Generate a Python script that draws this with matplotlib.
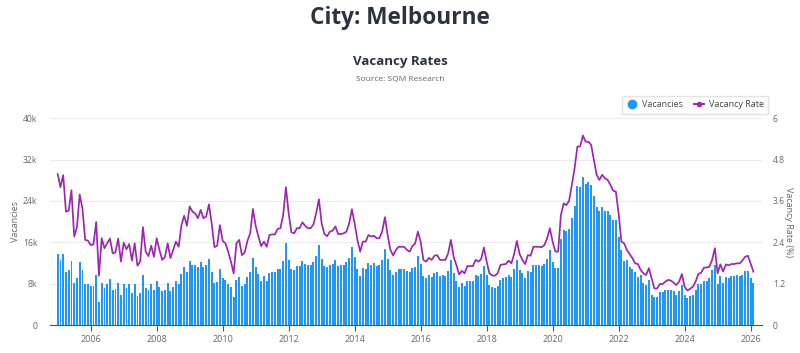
import numpy as np
import matplotlib
matplotlib.use('Agg')
import matplotlib.pyplot as plt
from matplotlib.lines import Line2D

plt.rcParams['font.family'] = ['Open Sans', 'DejaVu Sans']

# monthly data, Jan 2005 .. Feb 2026
vacancies_k = [
    13.7, 12.5, 13.7, 10.3, 10.6, 12.4, 8.1, 9.0, 12.1, 10.6, 7.9, 7.9,
    7.5, 7.5, 9.7, 4.5, 8.2, 7.1, 7.9, 8.9, 6.8, 6.9, 8.2, 5.9,
    8.0, 7.1, 7.9, 6.2, 7.9, 5.7, 6.2, 9.6, 7.1, 6.8, 7.9, 6.8,
    8.6, 7.4, 6.5, 6.8, 8.2, 6.6, 7.4, 8.5, 7.9, 9.9, 11.2, 10.3,
    12.3, 11.7, 11.7, 11.2, 12.1, 11.2, 11.6, 12.7, 10.3, 8.2, 8.4, 10.9,
    9.0, 8.8, 7.9, 7.3, 5.4, 8.7, 9.2, 7.5, 8.0, 9.2, 10.2, 12.9,
    11.3, 9.9, 8.6, 9.5, 8.6, 10.1, 10.2, 10.2, 10.9, 10.9, 12.3, 15.9,
    12.6, 10.8, 10.6, 11.4, 11.4, 12.3, 11.9, 11.6, 11.6, 12.1, 13.4, 15.5,
    12.8, 11.5, 11.2, 11.6, 11.8, 12.5, 11.5, 11.6, 11.7, 12.1, 13.0, 15.0,
    13.2, 10.8, 9.5, 11.0, 10.9, 12.0, 11.6, 12.0, 11.5, 11.6, 12.6, 14.7,
    12.8, 10.6, 9.6, 10.3, 10.8, 10.8, 10.8, 10.5, 10.3, 11.0, 11.3, 13.4,
    11.9, 9.5, 9.1, 9.7, 9.2, 10.0, 10.3, 9.5, 9.7, 9.5, 10.5, 12.5,
    10.0, 8.6, 7.3, 8.1, 7.5, 8.6, 8.6, 8.6, 9.6, 9.4, 9.9, 11.4,
    9.7, 7.7, 7.4, 7.2, 7.5, 8.8, 9.0, 9.2, 9.6, 9.2, 10.8, 12.5,
    10.6, 10.0, 9.0, 10.5, 10.3, 11.6, 11.6, 11.6, 11.4, 11.8, 12.8, 14.5,
    12.1, 11.0, 11.0, 16.6, 18.4, 18.1, 18.6, 20.8, 23.0, 26.9, 26.8, 28.7,
    27.3, 27.7, 27.1, 25.0, 22.9, 22.1, 22.8, 22.1, 22.1, 21.2, 20.3, 20.3,
    17.0, 14.6, 12.3, 12.5, 11.2, 10.8, 10.2, 9.3, 9.6, 8.1, 7.8, 8.7,
    5.8, 5.5, 5.5, 6.3, 6.3, 6.8, 6.8, 6.8, 6.5, 5.9, 6.5, 7.7,
    5.8, 5.3, 5.6, 5.9, 6.7, 7.9, 8.0, 8.6, 8.6, 9.0, 10.6, 11.6,
    8.0, 9.4, 8.1, 9.3, 9.0, 9.4, 9.4, 9.6, 9.5, 9.6, 10.5, 10.5,
    9.1, 8.2,
]

vacancy_rate = [
    4.38, 4.0, 4.35, 3.29, 3.32, 3.91, 2.57, 2.84, 3.79, 3.38, 2.47, 2.45,
    2.32, 2.34, 2.99, 1.43, 2.52, 2.23, 2.37, 2.51, 2.08, 2.11, 2.51, 1.84,
    2.39, 2.2, 2.35, 1.87, 2.37, 1.72, 1.84, 2.84, 2.13, 2.0, 2.3, 1.98,
    2.52, 2.18, 1.89, 1.98, 2.37, 1.94, 2.18, 2.42, 2.27, 2.9, 3.17, 2.88,
    3.44, 3.29, 3.24, 3.1, 3.34, 3.1, 3.15, 3.5, 2.95, 2.26, 2.3, 2.9,
    2.44, 2.37, 2.13, 1.84, 1.5, 2.37, 2.47, 2.03, 2.1, 2.44, 2.66, 3.37,
    2.88, 2.57, 2.29, 2.42, 2.27, 2.61, 2.63, 2.63, 2.79, 2.81, 3.19, 4.0,
    3.24, 2.69, 2.66, 2.81, 2.81, 2.98, 2.88, 2.81, 2.81, 2.92, 3.24, 3.65,
    2.95, 2.64, 2.58, 2.71, 2.74, 2.86, 2.64, 2.64, 2.66, 2.71, 2.95, 3.36,
    2.95, 2.47, 2.13, 2.42, 2.42, 2.61, 2.57, 2.59, 2.52, 2.52, 2.71, 3.13,
    2.61, 2.18, 2.02, 2.18, 2.27, 2.27, 2.27, 2.18, 2.13, 2.29, 2.37, 2.71,
    2.42, 1.89, 1.84, 1.95, 1.89, 2.01, 2.03, 1.89, 1.89, 1.89, 2.08, 2.47,
    1.98, 1.74, 1.47, 1.57, 1.5, 1.71, 1.71, 1.71, 1.89, 1.84, 1.91, 2.25,
    1.84, 1.5, 1.44, 1.43, 1.5, 1.74, 1.76, 1.77, 1.87, 1.79, 2.06, 2.44,
    2.06, 1.89, 1.77, 2.03, 2.01, 2.27, 2.27, 2.27, 2.26, 2.32, 2.52, 2.81,
    2.42, 2.13, 2.13, 3.19, 3.53, 3.48, 3.61, 4.07, 4.55, 5.18, 5.18, 5.5,
    5.32, 5.32, 5.23, 4.79, 4.36, 4.21, 4.36, 4.26, 4.21, 4.07, 3.9, 3.87,
    3.24, 2.42, 2.37, 2.18, 2.06, 1.94, 1.79, 1.77, 1.6, 1.5, 1.45, 1.65,
    1.36, 1.06, 1.06, 1.19, 1.19, 1.26, 1.31, 1.29, 1.23, 1.16, 1.26, 1.48,
    1.11, 1.0, 1.05, 1.11, 1.26, 1.48, 1.52, 1.66, 1.67, 1.69, 1.89, 2.23,
    1.5, 1.76, 1.55, 1.76, 1.73, 1.77, 1.77, 1.79, 1.79, 1.87, 1.98, 2.01,
    1.79, 1.55,
]

years = [2006, 2008, 2010, 2012, 2014, 2016, 2018, 2020, 2022, 2024, 2026]
left_ticks = [0, 8, 16, 24, 32, 40]
left_labels = ['0', '8k', '16k', '24k', '32k', '40k']
right_ticks = [0, 1.2, 2.4, 3.6, 4.8, 6]
right_labels = ['0', '1.2', '2.4', '3.6', '4.8', '6']

BLUE = '#2196f3'
PURPLE = '#9c27b0'
GREY = '#666666'

months = np.arange(len(vacancies_k))

fig = plt.figure(figsize=(8, 3.53), dpi=100)
ax = fig.add_axes([0.0625, 0.0793, 0.8895, 0.5856])
ax2 = ax.twinx()

ax.bar(months, vacancies_k, width=0.68, color=BLUE, zorder=2)
ax2.plot(months, vacancy_rate, color=PURPLE, lw=1.25, zorder=3)

ax.set_xlim(-2.8, 256)
ax.set_ylim(0, 40)
ax2.set_ylim(0, 6)

ax.set_yticks(left_ticks)
ax.set_yticklabels(left_labels)
ax2.set_yticks(right_ticks)
ax2.set_yticklabels(right_labels)
ax.set_xticks([(y - 2005) * 12 for y in years])
ax.set_xticklabels([str(y) for y in years])

ax.grid(axis='y', color='#ebebeb', lw=0.8, zorder=0)
ax.set_axisbelow(True)
ax.yaxis.get_gridlines()[-1].set_color('#f6ebe4')

for a in (ax, ax2):
    for s in ('top', 'left', 'right', 'bottom'):
        a.spines[s].set_visible(False)
ax.spines['bottom'].set_visible(True)
ax.spines['bottom'].set_color('#555555')
ax.spines['bottom'].set_linewidth(0.8)

ax.tick_params(axis='y', length=0, labelsize=6.2, labelcolor=GREY, pad=9)
ax2.tick_params(axis='y', length=0, labelsize=6.2, labelcolor=GREY, pad=8)
ax.tick_params(axis='x', length=4, color='#555555', labelsize=6.5,
               labelcolor=GREY, pad=3)

ax.set_ylabel('Vacancies', fontsize=6.5, color=GREY, labelpad=2)
ax2.set_ylabel('Vacancy Rate (%)', fontsize=6.5, color=GREY, rotation=270,
               labelpad=6)

fig.text(0.5, 1 - 18 / 353, 'City: Melbourne', ha='center', va='center',
         fontsize=16.3, fontweight='bold', color='#2b3340')
fig.text(0.5, 1 - 62 / 353, 'Vacancy Rates', ha='center', va='center',
         fontsize=9.5, fontweight='bold', color='#2b3340')
fig.text(0.5, 1 - 79 / 353, 'Source: SQM Research', ha='center', va='center',
         fontsize=6, color=GREY)

handles = [
    Line2D([], [], marker='o', ls='none', color=BLUE, markersize=6),
    Line2D([], [], marker='o', color=PURPLE, lw=1.4, markersize=3),
]
leg = fig.legend(handles, ['Vacancies', 'Vacancy Rate'], ncol=2,
                 loc='upper right', bbox_to_anchor=(773 / 800, 1 - 91 / 353),
                 fontsize=6.5, frameon=True, fancybox=False,
                 edgecolor='#dddddd', handlelength=1.2, handletextpad=0.5,
                 columnspacing=1.2, borderpad=0.5)
for t in leg.get_texts():
    t.set_color('#444444')

fig.savefig('out.png', dpi=100)
